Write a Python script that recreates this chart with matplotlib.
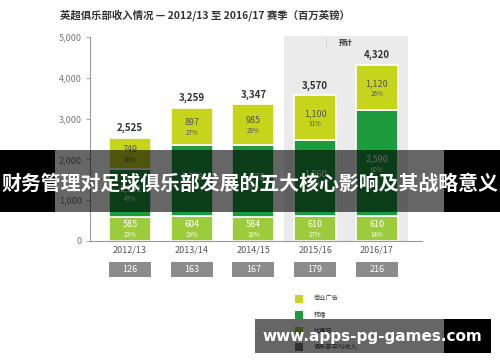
import matplotlib
matplotlib.use("Agg")
import matplotlib.pyplot as plt
from matplotlib.patches import Rectangle

plt.rcParams['font.family'] = ['Noto Sans CJK SC', 'DejaVu Sans']

seasons = ["2012/13", "2013/14", "2014/15", "2015/16", "2016/17"]
matchday = [585, 604, 584, 610, 610]
broadcast = [1191, 1758, 1778, 1860, 2590]
commercial = [749, 897, 985, 1100, 1120]
totals = [2525, 3259, 3347, 3570, 4320]
pct_matchday = ["23%", "19%", "18%", "17%", "14%"]
pct_broadcast = ["47%", "54%", "53%", "52%", "60%"]
pct_commercial = ["30%", "27%", "29%", "31%", "26%"]
club_avg = [126, 163, 167, 179, 216]
yticks = [0, 1000, 2000, 3000, 4000, 5000]
ytick_labels = ["0", "1,000", "2,000", "3,000", "4,000", "5,000"]
legend_labels = ["商业广告", "转播", "比赛日", "俱乐部平均收入"]

c_comm = "#C6D51B"
c_broad = "#1C9A3C"
c_match = "#9CCB3B"
c_gray = "#8C8C8C"

fig = plt.figure(figsize=(5, 3.62), dpi=100)
ax = fig.add_axes([0.18, 1 - 241 / 362, (422 - 90) / 500, (241 - 37) / 362])
ax.set_xlim(-0.648, 4.73)
ax.set_ylim(0, 5000)

x = list(range(len(seasons)))
w = 0.68

# forecast background
ax.add_patch(Rectangle((2.496, 0), 2.01, 5030, facecolor="#EBEBEB", edgecolor="none",
                       zorder=0, clip_on=False))
ax.text(3.5, 4877, "预计", ha="center", va="center", fontsize=5,
        fontweight="bold", color="#333333")
ax.plot([3.18, 3.18], [4975, 4780], color="#CCCCCC", lw=0.6, clip_on=False)

bottom2 = [m for m in matchday]
bottom3 = [m + b for m, b in zip(matchday, broadcast)]
ax.bar(x, matchday, width=w, color=c_match, edgecolor="white", linewidth=1.2, zorder=2)
ax.bar(x, broadcast, width=w, bottom=bottom2, color=c_broad, edgecolor="white", linewidth=1.2, zorder=2)
ax.bar(x, commercial, width=w, bottom=bottom3, color=c_comm, edgecolor="white", linewidth=1.2, zorder=2)

def seg_label(xi, yc, val, pct, col):
    ax.annotate(f"{val:,}", (xi, yc), xytext=(0, 3), textcoords="offset points",
                ha="center", va="center", fontsize=6.5, color=col, zorder=3)
    ax.annotate(pct, (xi, yc), xytext=(0, -4.5), textcoords="offset points",
                ha="center", va="center", fontsize=4.5, color=col, zorder=3)

for i in x:
    seg_label(i, matchday[i] / 2, matchday[i], pct_matchday[i], "white")
    seg_label(i, bottom2[i] + broadcast[i] / 2, broadcast[i], pct_broadcast[i], "white")
    seg_label(i, bottom3[i] + commercial[i] / 2, commercial[i], pct_commercial[i], "#555555")
    ax.annotate(f"{totals[i]:,}", (i, totals[i]), xytext=(0, 7), textcoords="offset points",
                ha="center", va="center", fontsize=7, color="#333333", fontweight="bold")
    ax.text(i, -230, seasons[i], ha="center", va="center", fontsize=6.5, color="#555555")
    ax.add_patch(Rectangle((i - w / 2, -882), w, 367, facecolor=c_gray, edgecolor="none",
                           clip_on=False))
    ax.text(i, -700, str(club_avg[i]), ha="center", va="center", fontsize=6.5, color="white")

for s in ["top", "right"]:
    ax.spines[s].set_visible(False)
ax.spines["left"].set_color("#999999")
ax.spines["bottom"].set_color("#999999")
ax.spines["left"].set_linewidth(0.8)
ax.spines["bottom"].set_linewidth(0.8)
ax.set_xticks([])
ax.set_yticks(yticks)
ax.set_yticklabels(ytick_labels, fontsize=6.5, color="#777777")
ax.tick_params(axis="y", length=3, width=0.6, color="#999999", pad=3)

fig.text(60 / 500, 1 - 15 / 362, "英超俱乐部收入情况 — 2012/13 至 2016/17 赛季（百万英镑）",
         fontsize=7.5, fontweight="bold", color="#333333", ha="left", va="center")

# legend
leg_cols = [c_comm, c_broad, c_match, "#7A7A7A"]
leg_y = [299, 315, 331, 347]
for lab, col, yy in zip(legend_labels, leg_cols, leg_y):
    fig.patches.append(Rectangle((295 / 500, 1 - (yy + 4) / 362), 8 / 500, 8 / 362,
                                 transform=fig.transFigure, facecolor=col, edgecolor="none"))
    fig.text(314 / 500, 1 - yy / 362, lab, fontsize=4.5, color="#444444", ha="left", va="center")

# overlay banners
def band(x0, x1, y0, y1, alpha):
    fig.patches.append(Rectangle((x0 / 500, 1 - y1 / 362), (x1 - x0) / 500, (y1 - y0) / 362,
                                 transform=fig.transFigure, facecolor="black", alpha=alpha,
                                 edgecolor="none", zorder=10))

band(0, 55, 150, 212, 1.0)
band(55, 444, 150, 212, 0.6)
band(444, 500, 150, 212, 1.0)
fig.text(0.5, 1 - 183 / 362, "财务管理对足球俱乐部发展的五大核心影响及其战略意义",
         fontsize=14.3, fontweight="bold", color="white", ha="center", va="center", zorder=11)

band(255, 444, 319, 353, 0.6)
band(444, 491, 319, 353, 1.0)
fig.text(372 / 500, 1 - 336 / 362, "www.apps-pg-games.com", fontsize=11, fontweight="bold",
         color="white", ha="center", va="center", zorder=11, family="DejaVu Sans")

fig.savefig("out.png", dpi=100)
